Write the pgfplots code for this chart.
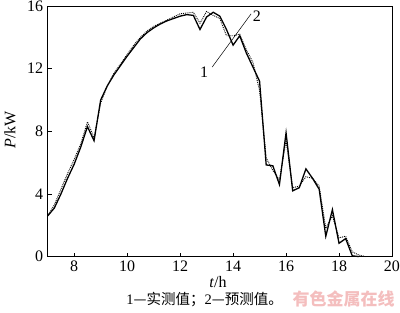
\documentclass[border=0pt]{standalone}
\usepackage{fontspec}
\setmainfont{Liberation Serif}
\newfontfamily\cjk{Noto Sans CJK SC}
\usepackage{pgfplots}
\pgfplotsset{compat=1.18}
\definecolor{wm}{RGB}{244,190,190}
\begin{document}
\fontsize{16}{18}\selectfont
\begin{tikzpicture}
\useasboundingbox (-47.7pt,-56.4pt) rectangle (352.3pt,256.6pt);
\begin{axis}[
  at={(0,0)}, anchor=south west,
  scale only axis, width=344.3pt, height=250.6pt,
  xmin=7, xmax=20, ymin=0, ymax=16,
  xtick={8,10,...,20}, ytick={0,4,...,16},
  tick align=inside, tick pos=left,
  major tick length=4pt,
  tick style={black, line width=0.5pt},
  axis line style={line width=0.6pt},
  /pgf/number format/assume math mode=true,
  ticklabel style={font=\fontsize{16}{18}\selectfont},
  xticklabel style={yshift=1pt},
  yticklabel style={xshift=1pt},
  clip=false,
]
\addplot[black, line width=1.3pt] coordinates {
(7.0,2.6)(7.25,3.1)(7.5,4.0)(7.75,5.0)(8.0,5.9)(8.25,7.0)(8.5,8.3)(8.75,7.4)
(9.0,10.0)(9.25,10.9)(9.5,11.6)(9.75,12.2)(10.0,12.8)(10.25,13.35)(10.5,13.9)
(10.75,14.3)(11.0,14.6)(11.25,14.85)(11.5,15.05)(11.75,15.2)(12.0,15.35)
(12.25,15.45)(12.5,15.4)(12.75,14.5)(13.0,15.3)(13.25,15.6)(13.5,15.35)
(13.75,14.5)(14.0,13.5)(14.25,14.1)(14.5,13.0)(14.75,12.1)(15.0,11.2)
(15.25,5.85)(15.5,5.8)(15.75,4.6)(16.0,7.9)(16.25,4.2)(16.5,4.4)(16.75,5.6)
(17.0,5.0)(17.25,4.3)(17.5,1.3)(17.75,3.0)(18.0,0.85)(18.25,1.15)(18.5,0.05)(18.75,0.0)
};
\addplot[black, line width=0.9pt, densely dotted] coordinates {
(7.0,2.6)(7.25,3.3)(7.5,4.3)(7.75,5.3)(8.0,6.2)(8.25,7.2)(8.5,8.6)(8.75,7.6)
(9.0,9.8)(9.25,10.9)(9.5,11.7)(9.75,12.3)(10.0,12.9)(10.25,13.5)(10.5,14.0)
(10.75,14.4)(11.0,14.7)(11.25,14.9)(11.5,15.1)(11.75,15.3)(12.0,15.5)
(12.25,15.55)(12.5,15.6)(12.75,14.9)(13.0,15.65)(13.25,15.4)(13.5,15.2)
(13.75,14.1)(14.0,14.1)(14.25,14.2)(14.5,13.2)(14.75,12.4)(15.0,10.6)
(15.25,6.3)(15.5,5.5)(15.75,4.9)(16.0,7.4)(16.25,4.4)(16.5,4.5)(16.75,5.1)
(17.0,5.0)(17.25,4.5)(17.5,1.8)(17.75,2.6)(18.0,1.2)(18.25,1.3)(18.5,0.3)(18.75,0.1)(19.0,0.0)
};
\draw[black, line width=0.5pt] (axis cs:13.21,12.1) -- (axis cs:14.68,15.5);
\node[font=\fontsize{16}{18}\selectfont] at (axis cs:12.91,11.8) {1};
\node[font=\fontsize{16}{18}\selectfont] at (axis cs:14.9,15.37) {2};
\end{axis}
\node[inner sep=0pt] at (170.3pt,-25.5pt) {\textit{t}/h};
\node[rotate=90] at (-37.7pt,126.6pt) {\textit{P}/kW};
\node[inner sep=0pt, font=\fontsize{14.5}{16}\selectfont] at (157pt,-43pt) {1{\cjk —实测值；}2{\cjk —预测值。}};
\node[inner sep=0pt, font=\cjk\bfseries\fontsize{17}{19}\selectfont, text=wm] at (296pt,-42pt) {有色金属在线};
\end{tikzpicture}
\end{document}
